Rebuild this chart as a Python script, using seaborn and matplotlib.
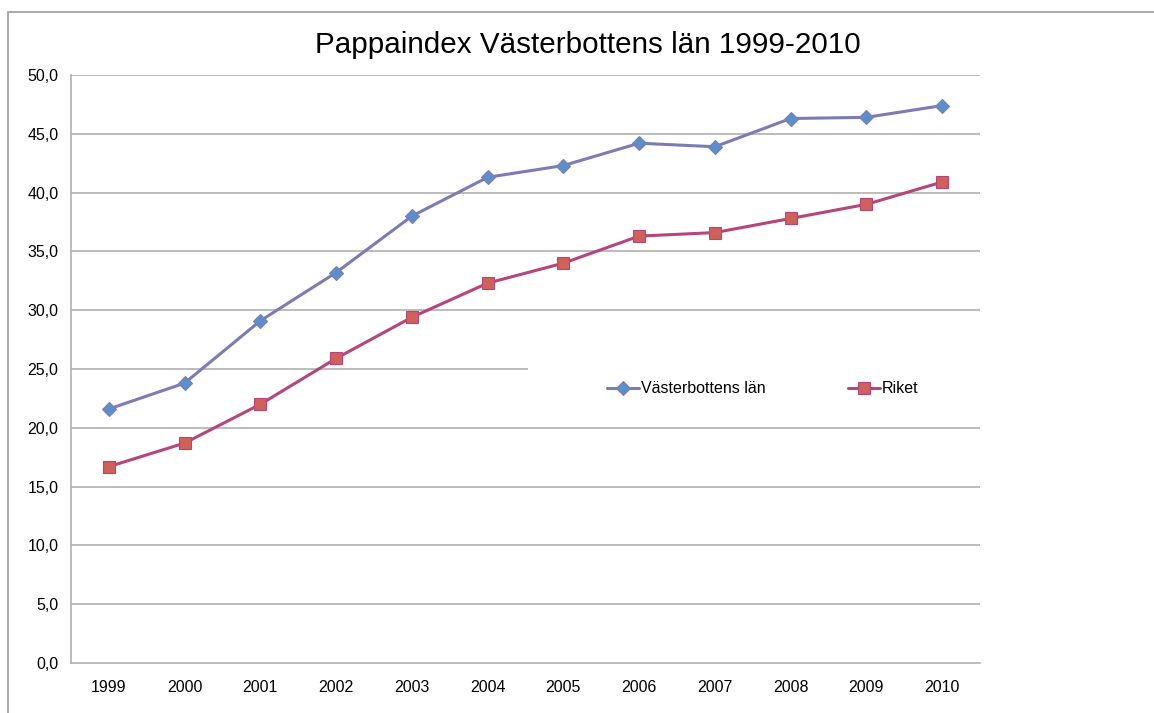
import matplotlib
matplotlib.use("Agg")
import matplotlib.pyplot as plt
import seaborn as sns
import numpy as np
from matplotlib.lines import Line2D
from matplotlib.patches import Rectangle

# Data
years = ["1999", "2000", "2001", "2002", "2003", "2004",
         "2005", "2006", "2007", "2008", "2009", "2010"]
vasterbotten = [21.6, 23.8, 29.1, 33.2, 38.0, 41.3, 42.3, 44.2, 43.9, 46.3, 46.4, 47.4]
riket = [16.7, 18.7, 22.0, 25.9, 29.4, 32.3, 34.0, 36.3, 36.6, 37.8, 39.0, 40.9]
y_ticks = [0, 5, 10, 15, 20, 25, 30, 35, 40, 45, 50]

sns.set_style("white")
plt.rcParams['font.family'] = ['Liberation Sans', 'DejaVu Sans']
plt.rcParams['text.color'] = 'black'
plt.rcParams['xtick.labelcolor'] = 'black'
plt.rcParams['ytick.labelcolor'] = 'black'

fig = plt.figure(figsize=(11.54, 7.13), dpi=100)
ax = fig.add_axes([71 / 1154, 1 - 663 / 713, (980 - 71) / 1154, (663 - 75) / 713])

# outer chart frame (only top/left visible in the crop)
fig.patches.append(Rectangle((8 / 1154, -0.1), 1.2, (713 - 12) / 713 + 0.1,
                             transform=fig.transFigure, fill=False,
                             edgecolor="#9a9a9a", linewidth=1.2))

pos = np.arange(len(years))
grid_col = "#b0b0b0"
for v in y_ticks[1:]:
    ax.axhline(v, color=grid_col, linewidth=1.2, zorder=0)

c1_line, c1_mark = "#7b7cb4", "#5b8fca"
c2_line, c2_mark = "#b5457b", "#d0605a"

sns.lineplot(x=pos, y=vasterbotten, ax=ax, color=c1_line, linewidth=2.2,
             marker="D", markersize=7, markerfacecolor=c1_mark,
             markeredgecolor=c1_line, markeredgewidth=0.8, zorder=3)
sns.lineplot(x=pos, y=riket, ax=ax, color=c2_line, linewidth=2.2,
             marker="s", markersize=9, markerfacecolor=c2_mark,
             markeredgecolor=c2_line, markeredgewidth=0.8, zorder=3)

ax.set_xlim(-0.5, len(years) - 0.5)
ax.set_ylim(0, 50)
ax.set_yticks(y_ticks)
ax.set_yticklabels([f"{v:.1f}".replace(".", ",") for v in y_ticks])
ax.set_xticks(pos)
ax.set_xticklabels(years)
ax.set_xticks(np.arange(-0.5, len(years)), minor=True)
ax.tick_params(axis="x", which="major", length=0, pad=12, labelsize=11.5)
ax.tick_params(axis="x", which="minor", length=5, color=grid_col, direction="out", width=1.2)
ax.tick_params(axis="y", which="major", length=5, color=grid_col, direction="out",
               width=1.2, pad=4, labelsize=11.5)

for side in ["top", "right"]:
    ax.spines[side].set_visible(False)
for side in ["left", "bottom"]:
    ax.spines[side].set_color(grid_col)
    ax.spines[side].set_linewidth(1.2)

fig.text(588 / 1154, 1 - 45 / 713, "Pappaindex Västerbottens län 1999-2010",
         fontsize=21.3, ha="center", va="center", color="black")

# legend box in the middle of the plot
ax.add_patch(Rectangle((5.53, 21.8), 7.0, 6.2, facecolor="white", edgecolor="none", zorder=2))
handles = [
    Line2D([], [], color=c1_line, linewidth=2.2, marker="D", markersize=7,
           markerfacecolor=c1_mark, markeredgecolor=c1_line, markeredgewidth=0.8),
    Line2D([], [], color=c2_line, linewidth=2.2, marker="s", markersize=9,
           markerfacecolor=c2_mark, markeredgecolor=c2_line, markeredgewidth=0.8),
]
leg = ax.legend(handles, ["Västerbottens län", "Riket"], ncol=2, frameon=False,
                loc="center left", bbox_to_anchor=((607 - 71) / (980 - 71), (663 - 389) / (663 - 75)),
                handlelength=2.0, handletextpad=0.1, columnspacing=5.2, fontsize=11.5,
                borderaxespad=0, borderpad=0)
leg.set_zorder(4)

fig.savefig("out.png", dpi=100)
